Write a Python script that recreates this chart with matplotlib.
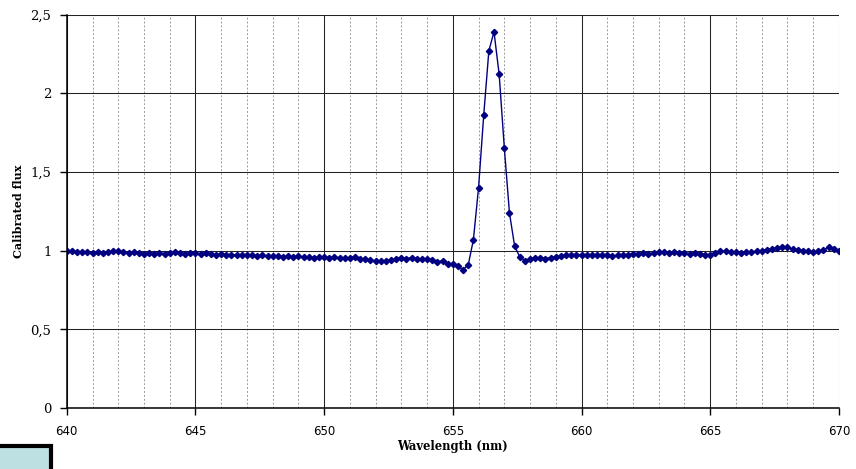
import numpy as np
import matplotlib
matplotlib.use('Agg')
import matplotlib.pyplot as plt
from matplotlib.patches import Rectangle

# wavelength grid: 640 -> 670 nm, step 0.2
wl = np.round(np.arange(640.0, 670.01, 0.2), 1)

flux = [
    # 640.0 - 644.8
    1.00, 0.995, 0.99, 0.99, 0.99, 0.985, 0.99, 0.985, 0.99, 0.995,
    1.00, 0.99, 0.985, 0.99, 0.985, 0.98, 0.985, 0.98, 0.985, 0.98,
    0.985, 0.99, 0.985, 0.98, 0.985,
    # 645.0 - 649.8
    0.985, 0.98, 0.985, 0.98, 0.975, 0.98, 0.975, 0.975, 0.97, 0.975,
    0.97, 0.97, 0.965, 0.97, 0.965, 0.965, 0.965, 0.96, 0.965, 0.96,
    0.965, 0.96, 0.96, 0.955, 0.96,
    # 650.0 - 654.8
    0.96, 0.955, 0.96, 0.955, 0.955, 0.955, 0.96, 0.95, 0.945, 0.94,
    0.935, 0.935, 0.935, 0.94, 0.95, 0.955, 0.95, 0.955, 0.95, 0.945,
    0.945, 0.94, 0.93, 0.935, 0.915,
    # 655.0 - 659.8
    0.915, 0.90, 0.88, 0.91, 1.07, 1.40, 1.86, 2.27, 2.39, 2.12,
    1.655, 1.24, 1.03, 0.96, 0.937, 0.946, 0.956, 0.955, 0.95, 0.955,
    0.96, 0.965, 0.97, 0.975, 0.975,
    # 660.0 - 664.8
    0.975, 0.97, 0.975, 0.975, 0.97, 0.975, 0.965, 0.97, 0.975, 0.975,
    0.98, 0.98, 0.985, 0.98, 0.985, 0.99, 0.99, 0.985, 0.99, 0.985,
    0.985, 0.98, 0.985, 0.98, 0.975,
    # 665.0 - 670.0
    0.975, 0.985, 1.00, 0.995, 0.99, 0.99, 0.985, 0.99, 0.99, 0.995,
    1.00, 1.005, 1.01, 1.015, 1.02, 1.02, 1.01, 1.005, 1.00, 0.995,
    0.99, 0.995, 1.005, 1.02, 1.01, 1.00,
]

xticks = [640, 645, 650, 655, 660, 665, 670]
xminor = list(range(640, 671))
yticks = [0, 0.5, 1, 1.5, 2, 2.5]
ylabels = ['0', '0,5', '1', '1,5', '2', '2,5']

navy = '#000080'

fig = plt.figure(figsize=(8.56, 4.69), dpi=100)
ax = fig.add_axes([0.078, 0.130, 0.902, 0.839])

ax.plot(wl, flux, color=navy, lw=1, marker='D', ms=3.2, mec=navy, mfc=navy)

ax.set_xlim(640, 670)
ax.set_ylim(0, 2.5)
ax.set_xticks(xticks, [str(v) for v in xticks], fontfamily='DejaVu Sans', fontsize=8.5)
ax.set_xticks(xminor, minor=True)
ax.set_yticks(yticks, ylabels, fontfamily='DejaVu Serif', fontsize=9.5)

ax.grid(which='major', axis='both', color='#222222', lw=0.75)
ax.grid(which='minor', axis='x', color='#999999', lw=0.7, ls=(0, (2, 2)))
ax.set_axisbelow(True)

for s in ['top', 'right']:
    ax.spines[s].set_visible(False)
for s in ['left', 'bottom']:
    ax.spines[s].set_linewidth(1.1)

ax.tick_params(which='major', direction='out', length=5, width=1, colors='black')
ax.tick_params(which='minor', length=0)
ax.tick_params(axis='x', pad=7)
ax.tick_params(axis='y', pad=6)

ax.set_xlabel('Wavelength (nm)', family='DejaVu Serif', weight='bold', fontsize=8.3, labelpad=2)
ax.set_ylabel('Calibrated flux', family='DejaVu Serif', weight='bold', fontsize=8, labelpad=5)

# leftover legend box in bottom-left corner
fig.patches.append(Rectangle((-0.01, -0.02), 0.07, 0.07, transform=fig.transFigure,
                             facecolor='#bde0e3', edgecolor='black', lw=3))

fig.savefig('out.png', dpi=100)
